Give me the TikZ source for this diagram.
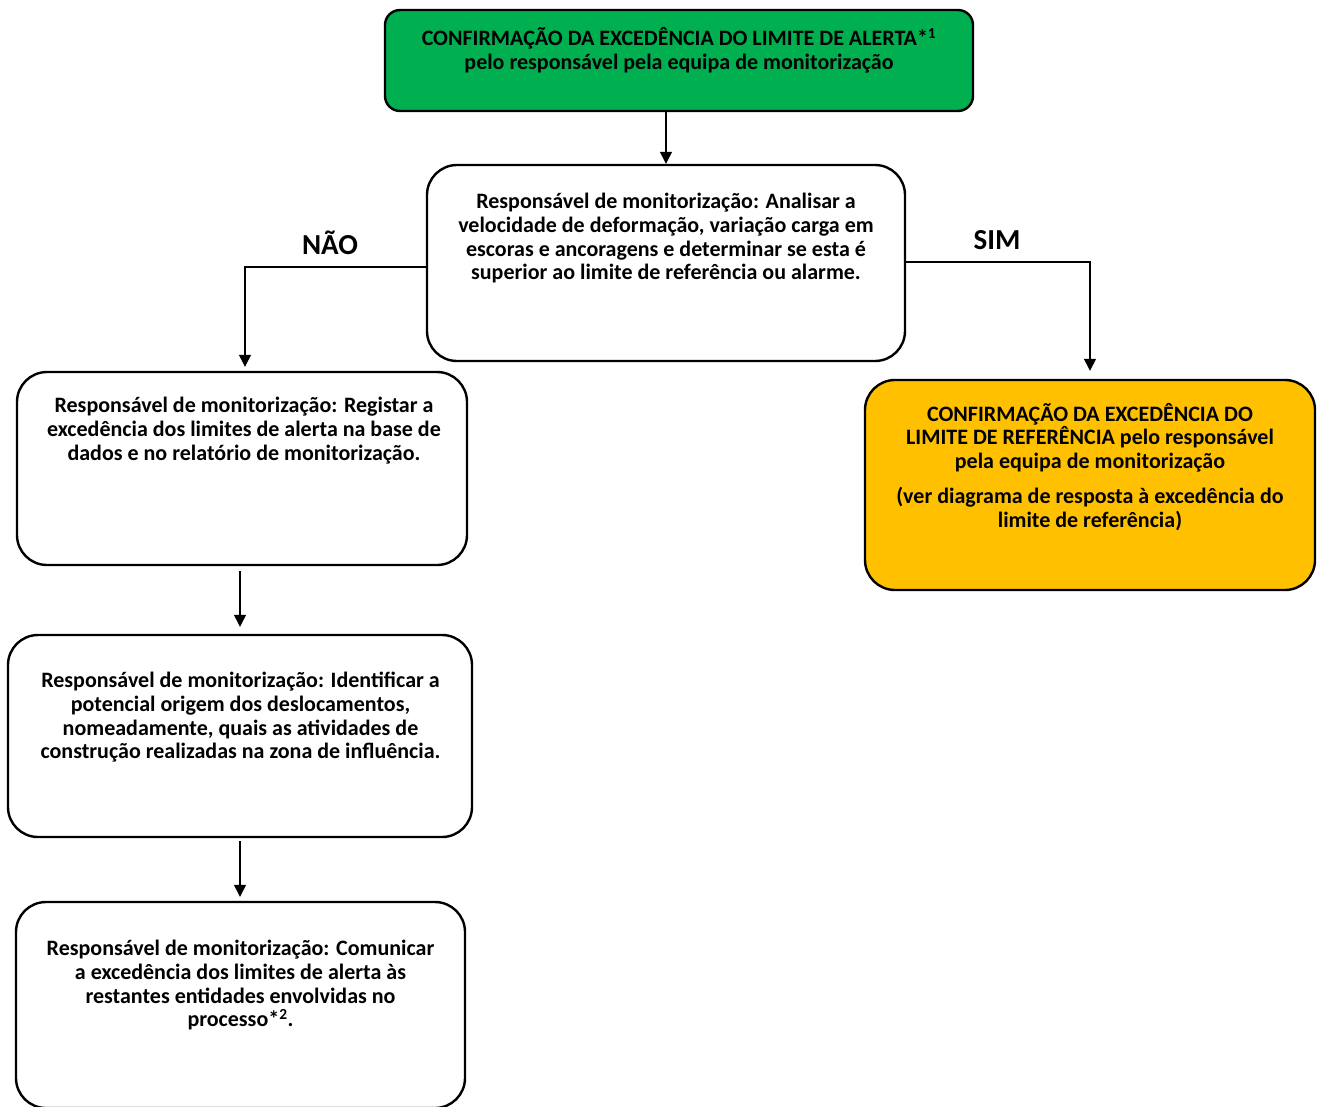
\documentclass[tikz,border=0pt]{standalone}
\usepackage{fontspec}
\setmainfont{Carlito}
\usetikzlibrary{arrows.meta,positioning}
\definecolor{boxgreen}{RGB}{0,176,80}
\definecolor{boxorange}{RGB}{255,192,0}
\tikzset{
  box/.style ={draw=black, line width=2.4pt, rounded corners=30pt, inner sep=0pt},
  txt/.style ={font=\fontsize{22}{23.7}\selectfont\bfseries, align=center, inner sep=0pt, anchor=north},
  lbl/.style ={font=\fontsize{29}{32}\selectfont\bfseries, inner sep=0pt},
  flow/.style={draw=black, line width=1.3pt, -{Triangle[length=12pt,width=12pt]}},
}
\begin{document}
\begin{tikzpicture}[x=1pt,y=-1pt]
  \useasboundingbox (0,0) rectangle (1322,1106);
  \clip (0,0) rectangle (1322,1106);
  % caixas
  \node[box, rounded corners=15pt, fill=boxgreen, minimum width=588, minimum height=101] (alerta) at (679,60.5) {};
  \node[box, fill=white, minimum width=478, minimum height=196] (analise) at (666,263) {};
  \node[box, minimum width=450, minimum height=193] (registo) at (242,468.5) {};
  \node[box, minimum width=464, minimum height=202] (origem) at (240,736) {};
  \node[box, minimum width=449, minimum height=206] (comunica) at (240.5,1005) {};
  \node[box, fill=boxorange, minimum width=450, minimum height=210] (referencia) at (1090,485) {};
  % textos
  \node[txt] (alerta-t) at (679,27.5) {CONFIRMAÇÃO DA EXCEDÊNCIA DO LIMITE DE ALERTA*\textsuperscript{1}\\pelo responsável pela equipa de monitorização};
  \node[txt] (analise-t) at (666,193) {Responsável de monitorização: Analisar a\\velocidade de deformação, variação carga em\\escoras e ancoragens e determinar se esta é\\superior ao limite de referência ou alarme.};
  \node[txt] (registo-t) at (244,397) {Responsável de monitorização: Registar a\\excedência dos limites de alerta na base de\\dados e no relatório de monitorização.};
  \node[txt] (origem-t) at (240.5,672) {Responsável de monitorização: Identificar a\\potencial origem dos deslocamentos,\\nomeadamente, quais as atividades de\\construção realizadas na zona de influência.};
  \node[txt] (comunica-t) at (240.5,940) {Responsável de monitorização: Comunicar\\a excedência dos limites de alerta às\\restantes entidades envolvidas no\\processo*\textsuperscript{2}.};
  \node[txt] (referencia-t) at (1090,403) {CONFIRMAÇÃO DA EXCEDÊNCIA DO\\LIMITE DE REFERÊNCIA pelo responsável\\pela equipa de monitorização\\[11pt](ver diagrama de resposta à excedência do\\limite de referência)};
  \node[lbl] (nao) at (330,243) {NÃO};
  \node[lbl] (sim) at (997,240) {SIM};
  % ligacoes
  \draw[flow] (analise.north |- alerta.south) -- (analise.north);
  \draw[flow, shorten >=4pt] ([yshift=-4pt]analise.west) -| ([xshift=3pt]registo.north);
  \draw[flow, shorten >=8pt] ([yshift=1pt]analise.east) -| (referencia.north);
  \draw[flow, shorten <=5pt, shorten >=7pt] (origem.north |- registo.south) -- (origem.north);
  \draw[flow, shorten <=3pt, shorten >=4pt] (origem.south) -- (origem.south |- comunica.north);
\end{tikzpicture}
\end{document}
